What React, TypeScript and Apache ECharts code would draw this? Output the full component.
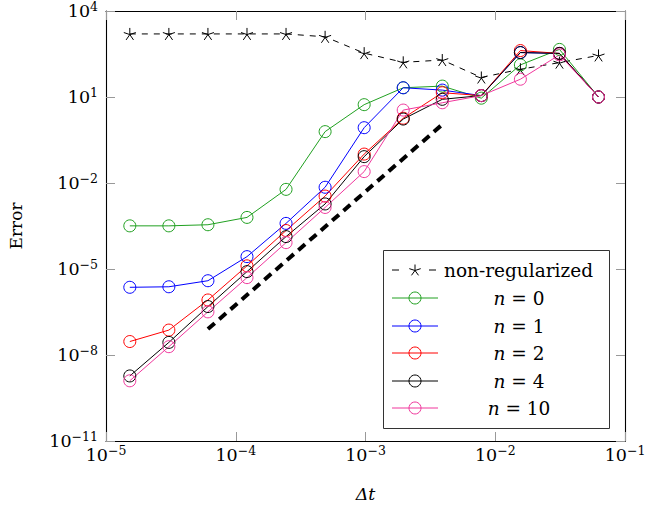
import React, { useEffect, useRef } from 'react';
import * as echarts from 'echarts';

// ---- data ----
const dt = [
  1.52587890625e-5, 3.0517578125e-5, 6.103515625e-5, 1.220703125e-4, 2.44140625e-4,
  4.8828125e-4, 9.765625e-4, 1.953125e-3, 3.90625e-3, 7.8125e-3, 1.5625e-2, 3.125e-2, 6.25e-2,
];
const nonRegularized = [1585, 1585, 1585, 1585, 1585, 1259, 339, 162, 195, 48, 93, 158, 282];
const n0 = [3.2e-4, 3.2e-4, 3.5e-4, 6.3e-4, 6.0e-3, 0.62, 5.4, 21, 24, 9.1, 132, 457, 10];
const n1 = [2.3e-6, 2.4e-6, 3.9e-6, 2.7e-5, 3.9e-4, 7.1e-3, 0.85, 21, 17.4, 11.2, 355, 331, 10];
const n2 = [2.95e-8, 7.4e-8, 8.3e-7, 1.29e-5, 2.2e-4, 3.5e-3, 0.102, 1.82, 14.1, 11.2, 417, 331, 10];
const n4 = [1.86e-9, 2.75e-8, 4.9e-7, 8.1e-6, 1.35e-4, 1.86e-3, 0.083, 1.7, 8.3, 11.2, 355, 331, 10];
const n10 = [1.26e-9, 1.95e-8, 3.2e-7, 5.0e-6, 8.3e-5, 1.4e-3, 0.025, 3.5, 6.3, 11.2, 41.7, 295, 10];
const refX = [6.103515625e-5, 3.90625e-3];
const refY = [8e-8, 1.1];
const xTicks = [1e-5, 1e-4, 1e-3, 1e-2, 1e-1];
const yTicks = [1e-11, 1e-8, 1e-5, 1e-2, 1e1, 1e4];
const legendNames = ['non-regularized', 'n = 0', 'n = 1', 'n = 2', 'n = 4', 'n = 10'];
const legendNums = ['0', '1', '2', '4', '10'];
const colors = ['#20a020', '#0000ff', '#ff0000', '#000000', '#f0379c'];

const FF = '"DejaVu Serif", serif';
const STAR_D = 'M0,-6 L0,0 M5.7,-1.85 L0,0 M3.53,4.85 L0,0 M-3.53,4.85 L0,0 M-5.7,-1.85 L0,0';

let registered = false;
function ensureShapes() {
  if (registered) return;
  echarts.graphic.registerShape('star5', echarts.graphic.extendPath(STAR_D, {}));
  registered = true;
}

const pairs = (ys: number[]) => dt.map((x, i) => [x, ys[i]]);

const supLabel = (v: number) => {
  const e = Math.round(Math.log10(v));
  const s = e < 0 ? '\u2212' + String(-e) : String(e);
  return `{b|10}{s|${s}}`;
};

const rich = {
  b: { fontFamily: FF, fontSize: 17.5, lineHeight: 21, color: '#000' },
  s: { fontFamily: FF, fontSize: 12.5, lineHeight: 10, color: '#000', padding: [0, 0, 9, 0] },
};

export default function App() {
  const ref = useRef<HTMLDivElement>(null);
  useEffect(() => {
    if (!ref.current) return;
    ensureShapes();
    const chart = echarts.init(ref.current, undefined, { renderer: 'svg' });
    const tickStyle = { show: true, inside: true, length: 9, lineStyle: { color: '#999', width: 1 } };
    const lineAxis = { show: true, lineStyle: { color: '#000', width: 1.1 } };
    const circleSeries = (name: string, data: number[], color: string) => ({
      name,
      type: 'line',
      data: pairs(data),
      symbol: 'circle',
      symbolSize: 12,
      lineStyle: { color, width: 1 },
      itemStyle: { color: 'transparent', borderColor: color, borderWidth: 1 },
      z: 3,
    });

    const legendY = [270, 298, 326, 353, 381, 408];
    const graphics: any[] = [
      {
        type: 'rect',
        shape: { x: 383.5, y: 250.5, width: 226, height: 178 },
        style: { fill: '#fff', stroke: '#333', lineWidth: 1 },
        z: 100,
      },
      { type: 'line', shape: { x1: 392, y1: 270, x2: 399, y2: 270 }, style: { stroke: '#000', lineWidth: 1 }, z: 101 },
      { type: 'line', shape: { x1: 429, y1: 270, x2: 436, y2: 270 }, style: { stroke: '#000', lineWidth: 1 }, z: 101 },
      { type: 'star5', x: 415, y: 270.5, style: { stroke: '#000', fill: 'none', lineWidth: 1 }, z: 101 },
      {
        type: 'text', x: 444, y: 270,
        style: { text: legendNames[0], font: `18.5px ${FF}`, fill: '#000', verticalAlign: 'middle', align: 'left' },
        z: 101,
      },
    ];
    legendNums.forEach((num, i) => {
      const y = legendY[i + 1];
      graphics.push(
        { type: 'line', shape: { x1: 392, y1: y, x2: 438, y2: y }, style: { stroke: colors[i], lineWidth: 1 }, z: 101 },
        { type: 'circle', shape: { cx: 415, cy: y, r: 6 }, style: { stroke: colors[i], fill: 'none', lineWidth: 1 }, z: 102 },
        {
          type: 'text', x: 519, y,
          style: {
            text: `{i|n} = ${num}`,
            rich: { i: { fontStyle: 'italic', fontFamily: FF, fontSize: 18.5, fill: '#000' } },
            font: `18.5px ${FF}`, fill: '#000', verticalAlign: 'middle', align: 'center',
          },
          z: 101,
        },
      );
    });

    chart.setOption({
      animation: false,
      backgroundColor: '#fff',
      grid: { left: 106, right: 22, top: 11, bottom: 66, containLabel: false, outerBoundsMode: 'none' },
      xAxis: [
        {
          type: 'log', logBase: 10, min: 1e-5, max: 1e-1, interval: 1,
          position: 'bottom',
          name: '\u0394t', nameLocation: 'middle', nameGap: 44,
          nameTextStyle: { fontFamily: FF, fontSize: 17.5, fontStyle: 'italic', color: '#000' },
          axisLine: lineAxis,
          axisTick: { ...tickStyle, customValues: xTicks },
          axisLabel: { customValues: xTicks, formatter: supLabel, rich, margin: 3, fontFamily: FF },
          splitLine: { show: false },
          minorTick: { show: false },
        },
        {
          type: 'log', logBase: 10, min: 1e-5, max: 1e-1, interval: 1,
          position: 'top',
          axisLine: lineAxis,
          axisTick: { ...tickStyle, customValues: xTicks },
          axisLabel: { show: false },
          splitLine: { show: false },
        },
      ],
      yAxis: [
        {
          type: 'log', logBase: 10, min: 1e-11, max: 1e4, interval: 1,
          position: 'left',
          name: 'Error', nameLocation: 'middle', nameGap: 82,
          nameTextStyle: { fontFamily: FF, fontSize: 17, color: '#000' },
          axisLine: lineAxis,
          axisTick: { ...tickStyle, customValues: yTicks },
          axisLabel: { customValues: yTicks, formatter: supLabel, rich, margin: 8, fontFamily: FF },
          splitLine: { show: false },
        },
        {
          type: 'log', logBase: 10, min: 1e-11, max: 1e4, interval: 1,
          position: 'right',
          axisLine: lineAxis,
          axisTick: { ...tickStyle, customValues: yTicks },
          axisLabel: { show: false },
          splitLine: { show: false },
        },
      ],
      series: [
        {
          name: 'reference',
          type: 'line',
          data: refX.map((x, i) => [x, refY[i]]),
          symbol: 'none',
          lineStyle: { color: '#000', width: 4, type: [9, 6] },
          z: 2,
        },
        {
          name: legendNames[0],
          type: 'line',
          data: pairs(nonRegularized),
          symbol: 'path://' + STAR_D,
          symbolSize: 12,
          lineStyle: { color: '#000', width: 1, type: [6, 6] },
          itemStyle: { color: 'transparent', borderColor: '#000', borderWidth: 1 },
          z: 3,
        },
        circleSeries(legendNames[1], n0, colors[0]),
        circleSeries(legendNames[2], n1, colors[1]),
        circleSeries(legendNames[3], n2, colors[2]),
        circleSeries(legendNames[4], n4, colors[3]),
        circleSeries(legendNames[5], n10, colors[4]),
      ],
      graphic: graphics,
    });
    return () => chart.dispose();
  }, []);
  return (
    <div
      ref={ref}
      style={{ position: 'absolute', left: 0, top: 0, width: 647, height: 507 }}
    />
  );
}
